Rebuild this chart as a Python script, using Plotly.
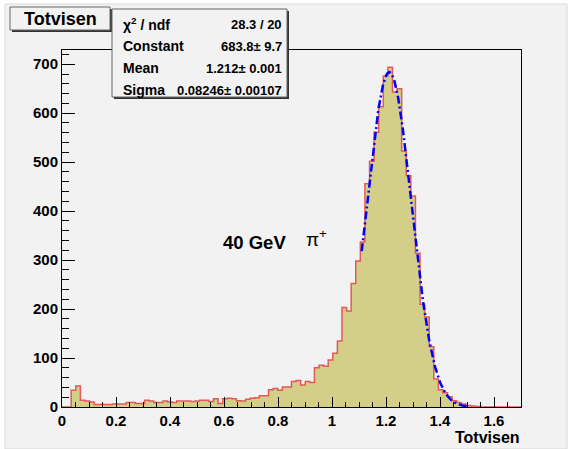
import numpy as np
import plotly.graph_objects as go

# ---------------- data ----------------
hist_name = "Totvisen"
bin_low = 0.0
bin_high = 1.7
n_bins = 100
counts = [
    0, 0, 34, 43, 14, 12, 10, 5, 5, 5,
    5, 6, 6, 6, 9, 9, 7, 7, 14, 12,
    9, 9, 12, 10, 9, 12, 12, 12, 11, 12,
    14, 14, 11, 17, 7, 17, 18, 17, 13, 12,
    16, 18, 19, 23, 23, 35, 38, 34, 41, 41,
    52, 54, 45, 52, 50, 80, 85, 83, 96, 110,
    135, 203, 196, 252, 298, 337, 456, 502, 561, 613,
    676, 694, 643, 650, 523, 472, 431, 314, 210, 184,
    123, 57, 35, 29, 21, 13, 9, 6, 3, 2,
    1, 0, 0, 0, 0, 0, 0, 0, 0, 0,
]
fit_constant = 683.8
fit_mean = 1.212
fit_sigma = 0.08246
fit_range = [1.11, 1.50]
stats_labels = ["χ<sup>2</sup> / ndf", "Constant", "Mean", "Sigma"]
stats_values = ["28.3 / 20", "683.8± 9.7", "1.212± 0.001", "0.08246± 0.00107"]
x_tickvals = [0, 0.2, 0.4, 0.6, 0.8, 1.0, 1.2, 1.4, 1.6]
x_ticktext = ["0", "0.2", "0.4", "0.6", "0.8", "1", "1.2", "1.4", "1.6"]
y_tickvals = [0, 100, 200, 300, 400, 500, 600, 700]
y_ticktext = ["0", "100", "200", "300", "400", "500", "600", "700"]
y_max = 729
x_title = "Totvisen"
label_text = "40 GeV"
particle_text = "π<sup>+</sup>"

# ---------------- geometry helpers (pixel -> paper) ----------------
W, H = 571, 449
L, R, T, B = 62, 521, 50, 407


def px(x):
    return (x - L) / (R - L)


def py(y):
    return (B - y) / (B - T)


edges = np.linspace(bin_low, bin_high, n_bins + 1)
step_y = list(counts) + [counts[-1]]

fx = np.linspace(fit_range[0], fit_range[1], 200)
fy = fit_constant * np.exp(-0.5 * ((fx - fit_mean) / fit_sigma) ** 2)

BG = "#f2f2f2"
FONT = "Liberation Sans"

fig = go.Figure()
fig.add_trace(go.Scatter(
    x=edges, y=step_y, mode="lines", line_shape="hv",
    line=dict(color="#e05a5a", width=1.5),
    fill="tozeroy", fillcolor="#d4cf88", hoverinfo="skip",
))
fig.add_trace(go.Scatter(
    x=fx, y=fy, mode="lines",
    line=dict(color="#0000ff", width=2.5, dash="8px,3px,2px,3px"),
    hoverinfo="skip",
))

shapes = []
# canvas background
shapes.append(dict(type="rect", xref="paper", yref="paper", layer="below",
                   x0=px(5), x1=px(567), y0=py(4), y1=py(449),
                   fillcolor=BG, line=dict(color="#d8d8d8", width=1)))
# title box shadow + box
shapes.append(dict(type="rect", xref="paper", yref="paper", layer="above",
                   x0=px(12), x1=px(112), y0=py(9), y1=py(32),
                   fillcolor="#333333", line=dict(width=0)))
shapes.append(dict(type="rect", xref="paper", yref="paper", layer="above",
                   x0=px(10), x1=px(110), y0=py(7), y1=py(30),
                   fillcolor=BG, line=dict(color="#666666", width=1)))
# stats box shadow + box
shapes.append(dict(type="rect", xref="paper", yref="paper", layer="above",
                   x0=px(114), x1=px(289), y0=py(11), y1=py(99),
                   fillcolor="#333333", line=dict(width=0)))
shapes.append(dict(type="rect", xref="paper", yref="paper", layer="above",
                   x0=px(112), x1=px(287), y0=py(9), y1=py(97),
                   fillcolor=BG, line=dict(color="#666666", width=1)))

annotations = []
annotations.append(dict(text=hist_name, xref="paper", yref="paper",
                        x=px(60), y=py(19), xanchor="center", yanchor="middle",
                        showarrow=False,
                        font=dict(family=FONT, size=18, color="black", weight="bold")))
row_y = [24, 46, 68, 90]
for lab, val, ry in zip(stats_labels, stats_values, row_y):
    annotations.append(dict(text=lab, xref="paper", yref="paper",
                            x=px(121), y=py(ry), xanchor="left", yanchor="middle",
                            showarrow=False,
                            font=dict(family=FONT, size=14, color="black", weight="bold")))
    annotations.append(dict(text=val, xref="paper", yref="paper",
                            x=px(284), y=py(ry), xanchor="right", yanchor="middle",
                            showarrow=False,
                            font=dict(family=FONT, size=13, color="black", weight="bold")))
annotations.append(dict(text=x_title, xref="paper", yref="paper",
                        x=px(522), y=py(437), xanchor="right", yanchor="middle",
                        showarrow=False,
                        font=dict(family=FONT, size=16, color="black", weight="bold")))
annotations.append(dict(text=label_text, xref="paper", yref="paper",
                        x=px(221), y=py(242), xanchor="left", yanchor="middle",
                        showarrow=False,
                        font=dict(family=FONT, size=18.5, color="black", weight="bold")))
annotations.append(dict(text=particle_text, xref="paper", yref="paper",
                        x=px(304), y=py(238), xanchor="left", yanchor="middle",
                        showarrow=False,
                        font=dict(family=FONT, size=19, color="black")))

tickfont = dict(family=FONT, size=15, color="black", weight="bold")

fig.update_layout(
    width=W, height=H,
    margin=dict(l=L, r=W - R, t=T, b=H - B, pad=0),
    paper_bgcolor="white", plot_bgcolor=BG,
    showlegend=False,
    shapes=shapes, annotations=annotations,
    xaxis=dict(range=[bin_low, bin_high], tickvals=x_tickvals, ticktext=x_ticktext,
               ticks="inside", ticklen=10, tickwidth=1, tickcolor="black",
               minor=dict(dtick=0.05, tick0=0, ticks="inside", ticklen=5,
                          tickcolor="black", showgrid=False),
               showline=True, linecolor="black", linewidth=1, mirror=True,
               showgrid=False, zeroline=False, tickfont=tickfont),
    yaxis=dict(range=[0, y_max], tickvals=y_tickvals, ticktext=y_ticktext,
               ticks="inside", ticklen=13, tickwidth=1, tickcolor="black",
               minor=dict(dtick=20, tick0=0, ticks="inside", ticklen=7,
                          tickcolor="black", showgrid=False),
               showline=True, linecolor="black", linewidth=1, mirror=True,
               showgrid=False, zeroline=False, tickfont=tickfont),
)

fig.write_html("out.html", config={"displayModeBar": False},
               post_script="document.body.style.margin='0';")
